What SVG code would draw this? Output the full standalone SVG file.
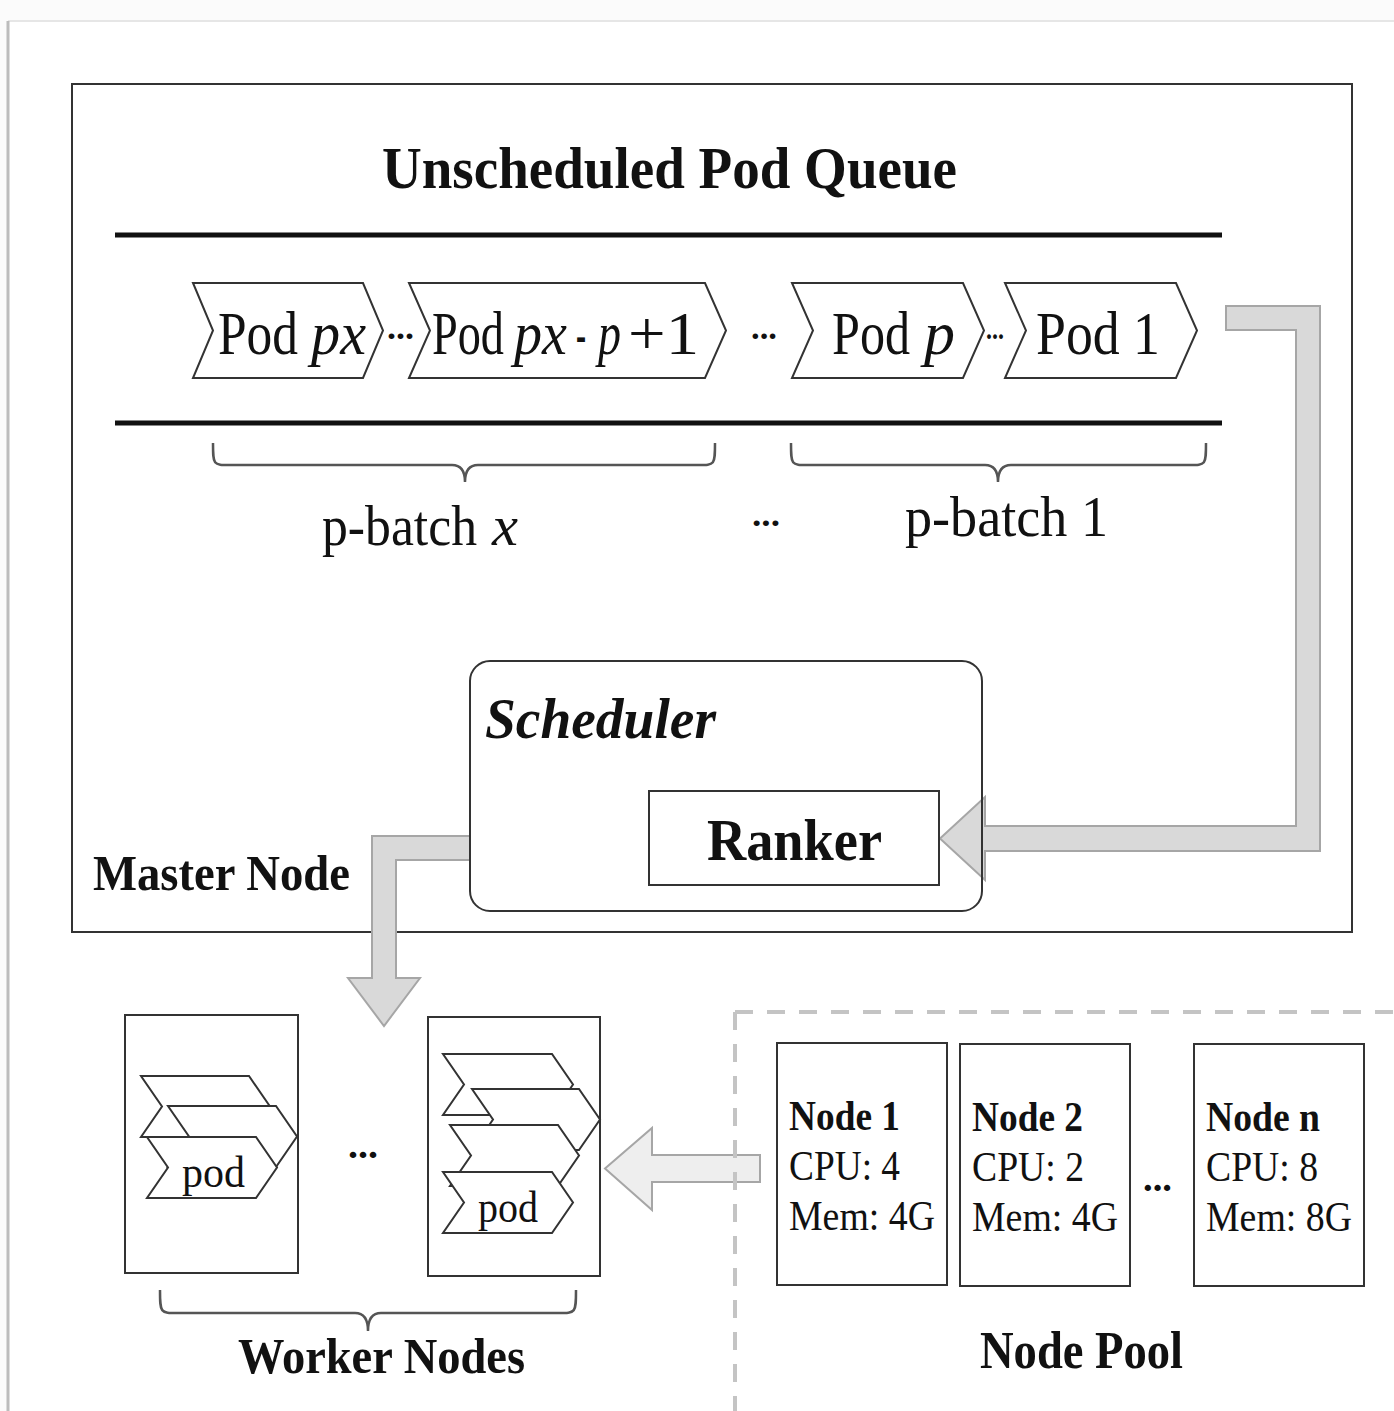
<svg xmlns="http://www.w3.org/2000/svg" width="1394" height="1411" viewBox="0 0 1394 1411">
  <defs>
    <style>
      .serif { font-family: "Liberation Serif", "Times New Roman", serif; fill: #111; }
      .b { font-weight: bold; }
      .i { font-style: italic; }
      .box { fill: #fff; stroke: #333; stroke-width: 2; }
      .frame { fill: none; stroke: #333; stroke-width: 2; }
      .chev { fill: #fff; stroke: #333; stroke-width: 2; stroke-linejoin: miter; }
      .rule { stroke: #111; stroke-width: 5; }
      .brace { fill: none; stroke: #555; stroke-width: 2.5; }
      .flow { fill: #d9d9d9; stroke: #a6a6a6; stroke-width: 2; stroke-linejoin: miter; }
      .flow-light { fill: #eeeeee; stroke: #a6a6a6; stroke-width: 2; stroke-linejoin: miter; }
      .dash { stroke: #c4c4c4; stroke-width: 4; stroke-dasharray: 18 14; fill: none; }
    </style>
  </defs>

  <!-- page -->
  <rect x="0" y="0" width="1394" height="1411" fill="#fbfbfb"/>
  <rect x="8" y="21" width="1390" height="1395" fill="#ffffff"/>
  <line x1="8" y1="21" x2="1394" y2="21" stroke="#e6e6e6" stroke-width="2"/>
  <line x1="8" y1="21" x2="8" y2="1411" stroke="#bcbcbc" stroke-width="3"/>

  <!-- master node -->
  <g id="master-node">
    <rect class="box" x="72" y="84" width="1280" height="848"/>
    <text class="serif b" x="93" y="890" font-size="50" textLength="257" lengthAdjust="spacingAndGlyphs">Master Node</text>
  </g>

  <!-- unscheduled pod queue -->
  <g id="pod-queue">
    <text class="serif b" x="382" y="188" font-size="60" textLength="575" lengthAdjust="spacingAndGlyphs">Unscheduled Pod Queue</text>
    <line class="rule" x1="115" y1="235" x2="1222" y2="235"/>
    <line class="rule" x1="115" y1="423" x2="1222" y2="423"/>

    <g id="pod-px">
      <polygon class="chev" points="193,283 363,283 383,330.5 363,378 193,378 213,330.5"/>
      <text class="serif" x="218" y="354" font-size="62" textLength="80" lengthAdjust="spacingAndGlyphs">Pod</text>
      <text class="serif i" x="311" y="354" font-size="62" textLength="55" lengthAdjust="spacingAndGlyphs">px</text>
    </g>
    <text class="serif b" x="387" y="339" font-size="34" textLength="27" lengthAdjust="spacingAndGlyphs">...</text>

    <g id="pod-px-p-1">
      <polygon class="chev" points="409,283 705,283 726,330.5 705,378 409,378 430,330.5"/>
      <text class="serif" x="432" y="354" font-size="62" textLength="72" lengthAdjust="spacingAndGlyphs">Pod</text>
      <text class="serif i" x="514" y="354" font-size="62" textLength="53" lengthAdjust="spacingAndGlyphs">px</text>
      <text class="serif" x="576" y="354" font-size="62" textLength="10" lengthAdjust="spacingAndGlyphs">-</text>
      <text class="serif i" x="598" y="354" font-size="62" textLength="23" lengthAdjust="spacingAndGlyphs">p</text>
      <text class="serif" x="628" y="354" font-size="62" textLength="71" lengthAdjust="spacingAndGlyphs">+1</text>
    </g>
    <text class="serif b" x="751" y="339" font-size="34" textLength="26" lengthAdjust="spacingAndGlyphs">...</text>

    <g id="pod-p">
      <polygon class="chev" points="792,283 963,283 984,330.5 963,378 792,378 813,330.5"/>
      <text class="serif" x="832" y="354" font-size="62" textLength="78" lengthAdjust="spacingAndGlyphs">Pod</text>
      <text class="serif i" x="924" y="354" font-size="62" textLength="31" lengthAdjust="spacingAndGlyphs">p</text>
    </g>
    <text class="serif b" x="986" y="339" font-size="30" textLength="18" lengthAdjust="spacingAndGlyphs">...</text>

    <g id="pod-1">
      <polygon class="chev" points="1005,283 1176,283 1197,330.5 1176,378 1005,378 1026,330.5"/>
      <text class="serif" x="1036" y="354" font-size="62" textLength="124" lengthAdjust="spacingAndGlyphs">Pod 1</text>
    </g>

    <!-- batch braces -->
    <path class="brace" d="M213,443 C213,465 213,465 230,465 L452,465 Q465,465 465,482 Q465,465 478,465 L698,465 C715,465 715,465 715,443"/>
    <path class="brace" d="M791,443 C791,465 791,465 808,465 L985,465 Q998,465 998,482 Q998,465 1011,465 L1189,465 C1206,465 1206,465 1206,443"/>
    <text class="serif" x="322" y="545" font-size="58" textLength="155" lengthAdjust="spacingAndGlyphs">p-batch</text>
    <text class="serif i" x="492" y="545" font-size="58" textLength="26" lengthAdjust="spacingAndGlyphs">x</text>
    <text class="serif b" x="752" y="526" font-size="34" textLength="28" lengthAdjust="spacingAndGlyphs">...</text>
    <text class="serif" x="905" y="536" font-size="58" textLength="203" lengthAdjust="spacingAndGlyphs">p-batch 1</text>
  </g>

  <!-- connectors -->
  <g id="connectors">
    <path class="flow" d="M1226,306 L1320,306 L1320,851 L985,851 L985,880 L940,838.5 L985,797 L985,826 L1296,826 L1296,330 L1226,330 Z"/>
    <path class="flow" d="M470,836 L372,836 L372,978 L348,978 L384,1026 L420,978 L396,978 L396,860 L470,860 Z"/>
    <path class="flow-light" d="M760,1155 L652,1155 L652,1128 L605,1168.5 L652,1210 L652,1182 L760,1182 Z"/>
  </g>

  <!-- scheduler -->
  <g id="scheduler">
    <rect class="frame" x="470" y="661" width="512" height="250" rx="20" ry="20"/>
    <text class="serif b i" x="485" y="738" font-size="58" textLength="231" lengthAdjust="spacingAndGlyphs">Scheduler</text>
  </g>
  <g id="ranker">
    <rect class="box" x="649" y="791" width="290" height="94"/>
    <text class="serif b" x="707" y="860" font-size="60" textLength="175" lengthAdjust="spacingAndGlyphs">Ranker</text>
  </g>

  <!-- worker nodes -->
  <g id="worker-1">
    <rect class="box" x="125" y="1015" width="173" height="258"/>
    <polygon class="chev" points="141,1076 249,1076 270,1106.5 249,1137 141,1137 162,1106.5"/>
    <polygon class="chev" points="168,1106 276,1106 297,1136.5 276,1167 168,1167 189,1136.5"/>
    <polygon class="chev" points="147,1137 256,1137 277,1167.5 256,1198 147,1198 168,1167.5"/>
    <text class="serif" x="182" y="1187" font-size="44" textLength="63" lengthAdjust="spacingAndGlyphs">pod</text>
  </g>
  <text class="serif b" x="348" y="1158" font-size="38" textLength="30" lengthAdjust="spacingAndGlyphs">...</text>
  <g id="worker-2">
    <rect class="box" x="428" y="1017" width="172" height="259"/>
    <polygon class="chev" points="443,1054 552,1054 573,1084.5 552,1115 443,1115 464,1084.5"/>
    <polygon class="chev" points="472,1089 579,1089 600,1119.5 579,1150 472,1150 493,1119.5"/>
    <polygon class="chev" points="450,1125 558,1125 579,1155.5 558,1186 450,1186 471,1155.5"/>
    <polygon class="chev" points="443,1172 552,1172 573,1202.5 552,1233 443,1233 464,1202.5"/>
    <text class="serif" x="478" y="1222" font-size="44" textLength="60" lengthAdjust="spacingAndGlyphs">pod</text>
  </g>
  <path class="brace" d="M160,1290 C160,1313 160,1313 178,1313 L355,1313 Q368,1313 368,1331 Q368,1313 381,1313 L558,1313 C576,1313 576,1313 576,1290"/>
  <text class="serif b" x="238" y="1373" font-size="50" textLength="287" lengthAdjust="spacingAndGlyphs">Worker Nodes</text>

  <!-- node pool -->
  <g id="node-pool">
    <path class="dash" d="M735,1012 L1394,1012"/>
    <path class="dash" d="M735,1012 L735,1411"/>
    <g id="pool-node-1">
      <rect class="box" x="777" y="1043" width="170" height="242"/>
      <text class="serif b" x="789" y="1130" font-size="42" textLength="111" lengthAdjust="spacingAndGlyphs">Node 1</text>
      <text class="serif" x="789" y="1180" font-size="42" textLength="111" lengthAdjust="spacingAndGlyphs">CPU: 4</text>
      <text class="serif" x="789" y="1230" font-size="42" textLength="146" lengthAdjust="spacingAndGlyphs">Mem: 4G</text>
    </g>
    <g id="pool-node-2">
      <rect class="box" x="960" y="1044" width="170" height="242"/>
      <text class="serif b" x="972" y="1131" font-size="42" textLength="111" lengthAdjust="spacingAndGlyphs">Node 2</text>
      <text class="serif" x="972" y="1181" font-size="42" textLength="112" lengthAdjust="spacingAndGlyphs">CPU: 2</text>
      <text class="serif" x="972" y="1231" font-size="42" textLength="146" lengthAdjust="spacingAndGlyphs">Mem: 4G</text>
    </g>
    <text class="serif b" x="1143" y="1191" font-size="38" textLength="29" lengthAdjust="spacingAndGlyphs">...</text>
    <g id="pool-node-n">
      <rect class="box" x="1194" y="1044" width="170" height="242"/>
      <text class="serif b" x="1206" y="1131" font-size="42" textLength="114" lengthAdjust="spacingAndGlyphs">Node n</text>
      <text class="serif" x="1206" y="1181" font-size="42" textLength="112" lengthAdjust="spacingAndGlyphs">CPU: 8</text>
      <text class="serif" x="1206" y="1231" font-size="42" textLength="146" lengthAdjust="spacingAndGlyphs">Mem: 8G</text>
    </g>
    <text class="serif b" x="980" y="1368" font-size="52" textLength="203" lengthAdjust="spacingAndGlyphs">Node Pool</text>
  </g>
</svg>
